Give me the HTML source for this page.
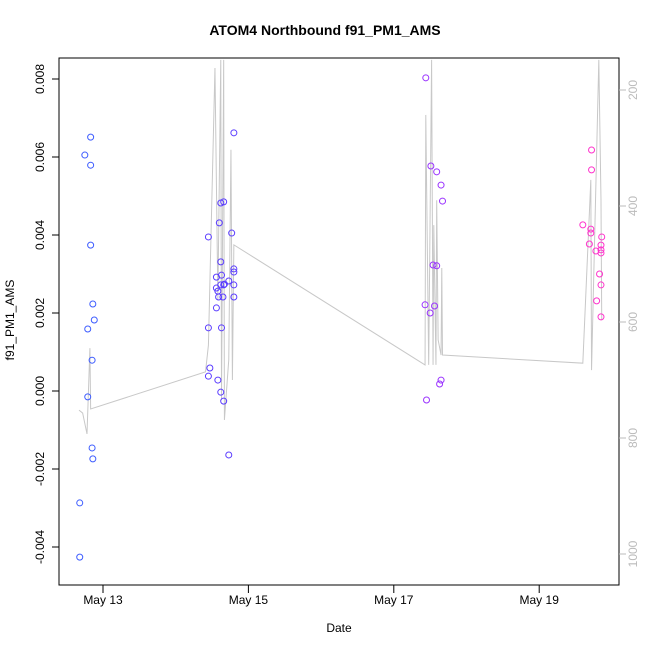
<!DOCTYPE html>
<html><head><meta charset="utf-8"><style>
body{margin:0;background:#fff}
svg{font-family:"Liberation Sans",sans-serif}
</style></head><body>
<svg id="c" width="650" height="650"></svg>
<script>
const ptDays=[12.68,12.68,12.75,12.83,12.83,12.83,12.79,12.79,12.86,12.88,12.85,12.85,12.86,
14.80,14.66,14.62,14.60,14.45,14.77,14.62,14.56,14.80,14.80,14.63,14.73,14.67,14.66,14.62,14.56,14.58,14.80,14.80,14.59,14.65,14.56,14.45,14.63,14.47,14.45,14.58,14.62,14.66,14.73,
17.44,17.51,17.59,17.65,17.67,17.54,17.59,17.43,17.56,17.50,17.65,17.63,17.45,
19.72,19.72,19.60,19.71,19.71,19.86,19.69,19.85,19.78,19.85,19.85,19.83,19.85,19.79,19.85];
const ptVals=[-4.26,-2.87,6.05,6.51,5.79,3.74,1.59,-0.15,2.23,1.82,0.79,-1.46,-1.74,
6.62,4.85,4.82,4.31,3.95,4.05,3.31,2.92,3.13,3.05,2.97,2.82,2.74,2.72,2.72,2.64,2.56,2.72,2.41,2.41,2.41,2.13,1.62,1.62,0.59,0.38,0.28,-0.03,-0.26,-1.64,
8.03,5.77,5.62,5.28,4.87,3.23,3.21,2.21,2.18,2.00,0.28,0.18,-0.23,
6.18,5.67,4.26,4.15,4.05,3.95,3.77,3.74,3.59,3.62,3.54,3.00,2.72,2.31,1.90];
const ptGroup=[0,0,0,0,0,0,0,0,0,0,0,0,0,
1,1,1,1,1,1,1,1,1,1,1,1,1,1,1,1,1,1,1,1,1,1,1,1,1,1,1,1,1,1,
2,2,2,2,2,2,2,2,2,2,2,2,2,
3,3,3,3,3,3,3,3,3,3,3,3,3,3,3];
const lineDays=[12.67,12.72,12.78,12.82,12.83,14.41,14.45,14.54,14.58,14.62,14.63,14.66,14.67,14.73,14.76,14.78,14.80,17.43,17.44,17.48,17.52,17.54,17.55,17.58,17.59,17.61,17.65,17.66,17.67,19.60,19.71,19.72,19.82,19.85,19.86];
const lineVals=[752,757,793,645,750,686,640,162,562,148,734,148,769,665,303,700,467,674,243,674,148,674,433,674,390,631,657,507,657,671,355,683,148,390,597];
const yTicks=[-0.004,-0.002,0,0.002,0.004,0.006,0.008];
const yTickLabels=["-0.004","-0.002","0.000","0.002","0.004","0.006","0.008"];
const y2Ticks=[200,400,600,800,1000];
const xTicks=[13,15,17,19];
const xTickLabels=["May 13","May 15","May 17","May 19"];
const groupColors=["#3d5cff","#5a3cff","#9a33ff","#ff33cc"];

const NS="http://www.w3.org/2000/svg";
const svg=document.getElementById('c');
const L=59,R=619,T=58,B=585;
const xs=d=>103+(d-13)*72.7;
const ys=v=>391-v*39000;
const ys2=v=>90+(v-200)*0.58;
function mk(t,a,p){const e=document.createElementNS(NS,t);for(const k in a)e.setAttribute(k,a[k]);(p||svg).appendChild(e);return e;}
const defs=mk('defs',{});const cp=mk('clipPath',{id:'clip'},defs);mk('rect',{x:L,y:T,width:R-L,height:B-T},cp);

const t=mk('text',{x:325,y:35,'text-anchor':'middle','font-size':14,'font-weight':'bold'});


t.textContent='ATOM4 Northbound f91_PM1_AMS';

const lg=mk('g',{'clip-path':'url(#clip)'});


mk('polyline',{points:lineDays.map((d,i)=>xs(d)+','+ys2(lineVals[i])).join(' '),fill:'none',stroke:'#c8c8c8','stroke-width':1},lg);

const pg=mk('g',{});


ptDays.forEach((d,i)=>{const c=mk('circle',{cx:xs(d),cy:ys(ptVals[i]/1000),r:3,fill:'none',stroke:groupColors[ptGroup[i]],'stroke-width':1},pg);

});

const box=mk('rect',{x:L,y:T,width:R-L,height:B-T,fill:'none',stroke:'#000'});



const ya=mk('g',{});


yTicks.forEach((v,i)=>{const y=ys(v);mk('line',{x1:L,x2:L-7,y1:y,y2:y,stroke:'#000'},ya);
const tx=mk('text',{x:44,y:y,'font-size':12,'text-anchor':'middle',transform:`rotate(-90 44 ${y})`},ya);tx.textContent=yTickLabels[i];});
const y2a=mk('g',{});


y2Ticks.forEach(v=>{const y=ys2(v);mk('line',{x1:R,x2:R+7,y1:y,y2:y,stroke:'#bbb'},y2a);
const tx=mk('text',{x:637,y:y,'font-size':12,fill:'#bbb','text-anchor':'middle',transform:`rotate(-90 637 ${y})`},y2a);tx.textContent=v;});
const xa=mk('g',{});


xTicks.forEach((d,i)=>{const x=xs(d);mk('line',{x1:x,x2:x,y1:B,y2:B+8,stroke:'#000'},xa);
const tx=mk('text',{x:x,y:604,'font-size':12,'text-anchor':'middle'},xa);tx.textContent=xTickLabels[i];});
const xt=mk('text',{x:339,y:632,'font-size':12,'text-anchor':'middle'});


xt.textContent='Date';
const yt=mk('text',{x:14,y:320,'font-size':12,'text-anchor':'middle',transform:'rotate(-90 14 320)'});


yt.textContent='f91_PM1_AMS';
</script>
</body></html>
